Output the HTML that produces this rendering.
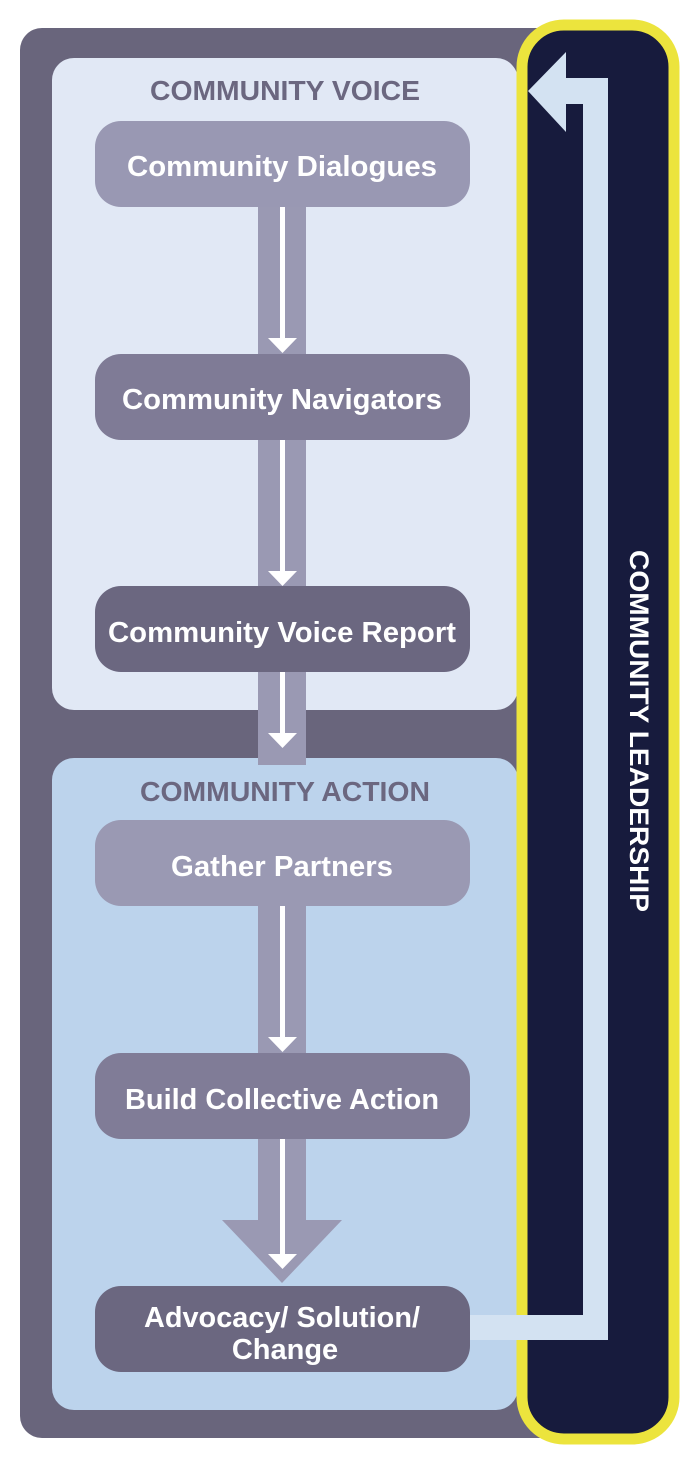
<!DOCTYPE html>
<html><head><meta charset="utf-8"><style>
html,body{margin:0;padding:0;background:#fff;width:680px;height:1457px;overflow:hidden}
svg{display:block}
text{font-family:"Liberation Sans",sans-serif;font-weight:bold}
</style></head><body>
<svg width="680" height="1457" viewBox="0 0 680 1457">
<rect x="20" y="28" width="560" height="1410" rx="22" fill="#69657c"/>
<rect x="52" y="58" width="466" height="652" rx="22" fill="#e1e8f5"/>
<rect x="52" y="758" width="466" height="652" rx="22" fill="#bcd3ec"/>
<g fill="#9a99b3">
<rect x="258" y="200" width="48" height="160"/>
<rect x="258" y="435" width="48" height="160"/>
<rect x="258" y="665" width="48" height="100"/>
<rect x="258" y="900" width="48" height="160"/>
<rect x="258" y="1135" width="48" height="90"/>
<polygon points="222,1220 342,1220 282,1283"/>
</g>
<g fill="#fff">
<rect x="280" y="207" width="5" height="133"/><polygon points="268,338 297,338 282.5,353"/>
<rect x="280" y="440" width="5" height="133"/><polygon points="268,571 297,571 282.5,586"/>
<rect x="280" y="672" width="5" height="66"/><polygon points="268,733 297,733 282.5,748"/>
<rect x="280" y="905" width="5" height="133"/><polygon points="268,1037 297,1037 282.5,1052"/>
<rect x="280" y="1138" width="5" height="120"/><polygon points="268,1254 297,1254 282.5,1269"/>
</g>
<text x="285" y="100" font-size="28" fill="#6b6780" text-anchor="middle" textLength="270" lengthAdjust="spacingAndGlyphs">COMMUNITY VOICE</text>
<text x="285" y="801" font-size="28" fill="#6b6780" text-anchor="middle" textLength="290" lengthAdjust="spacingAndGlyphs">COMMUNITY ACTION</text>
<rect x="95" y="121" width="375" height="86" rx="26" fill="#9998b3"/>
<rect x="95" y="354" width="375" height="86" rx="26" fill="#7f7b96"/>
<rect x="95" y="586" width="375" height="86" rx="26" fill="#6b6780"/>
<rect x="95" y="820" width="375" height="86" rx="26" fill="#9a99b3"/>
<rect x="95" y="1053" width="375" height="86" rx="26" fill="#807c97"/>
<rect x="95" y="1286" width="375" height="86" rx="26" fill="#6b6780"/>
<g fill="#fff" font-size="29" text-anchor="middle">
<text x="282" y="176" textLength="310" lengthAdjust="spacingAndGlyphs">Community Dialogues</text>
<text x="282" y="409" textLength="320" lengthAdjust="spacingAndGlyphs">Community Navigators</text>
<text x="282" y="642" textLength="348" lengthAdjust="spacingAndGlyphs">Community Voice Report</text>
<text x="282" y="876" textLength="222" lengthAdjust="spacingAndGlyphs">Gather Partners</text>
<text x="282" y="1109" textLength="314" lengthAdjust="spacingAndGlyphs">Build Collective Action</text>
<text x="282" y="1327" textLength="276" lengthAdjust="spacingAndGlyphs">Advocacy/ Solution/</text>
<text x="285" y="1359">Change</text>
</g>
<rect x="522" y="25" width="152" height="1414" rx="42" fill="#171b3d" stroke="#ece43d" stroke-width="11"/>
<g fill="#d3e2f2">
<rect x="470" y="1315" width="138" height="25"/>
<rect x="583" y="78" width="25" height="1262"/>
<rect x="560" y="78" width="48" height="26"/>
<polygon points="528,91 566,52 566,132"/>
</g>
<text x="0" y="0" font-size="27" fill="#fff" text-anchor="middle" textLength="362" lengthAdjust="spacingAndGlyphs" transform="translate(630,731) rotate(90)">COMMUNITY LEADERSHIP</text>
</svg>
</body></html>
